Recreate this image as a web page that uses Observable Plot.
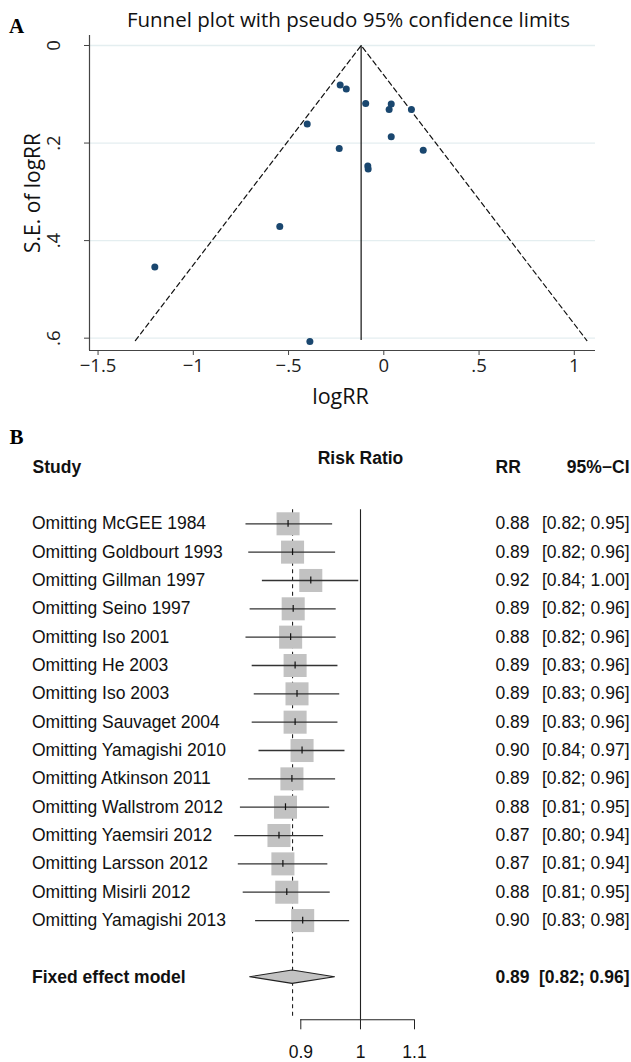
<!DOCTYPE html>
<html>
<head>
<meta charset="utf-8">
<script src="https://cdn.jsdelivr.net/npm/d3@7"></script>
<script src="https://cdn.jsdelivr.net/npm/@observablehq/plot@0.6"></script>
<style>
  body { margin: 0; background: #fff; }
  #wrap { position: relative; width: 631px; height: 1062px; overflow: hidden; }
  #panelA, #panelB { position: absolute; left: 0; }
  #panelA { top: 0; }
  #panelB { top: 420px; }
  svg { display: block; }
</style>
</head>
<body>
<div id="wrap"><div id="panelA"></div><div id="panelB"></div></div>
<script>
// ---------- Panel A: funnel plot data ----------
const funnelLogRR = [-0.229, -0.197, -0.095, 0.039, 0.028, 0.145, -0.402, 0.039, -0.234, 0.207, -0.084, -0.082, -0.546, -1.202, -0.388];
const funnelSE    = [0.081, 0.089, 0.119, 0.120, 0.131, 0.131, 0.161, 0.187, 0.211, 0.215, 0.247, 0.253, 0.371, 0.454, 0.607];
const funnelCenter = -0.119;
const funnelSEMax = 0.605;
const funnelLimitLow = -1.304;
const funnelLimitHigh = 1.066;
const funnelXTicks = [-1.5, -1, -0.5, 0, 0.5, 1];
const funnelXTickLabels = ["−1.5", "−1", "−.5", "0", ".5", "1"];
const funnelYTicks = [0, 0.2, 0.4, 0.6];
const funnelYTickLabels = ["0", ".2", ".4", ".6"];
const funnelTitle = "Funnel plot with pseudo 95% confidence limits";
const funnelXTitle = "logRR";
const funnelYTitle = "S.E. of logRR";

// ---------- Panel B: forest plot data ----------
const studies = [
  "Omitting McGEE 1984", "Omitting Goldbourt 1993", "Omitting Gillman 1997", "Omitting Seino 1997",
  "Omitting Iso 2001", "Omitting He 2003", "Omitting Iso 2003", "Omitting Sauvaget 2004",
  "Omitting Yamagishi 2010", "Omitting Atkinson 2011", "Omitting Wallstrom 2012", "Omitting Yaemsiri 2012",
  "Omitting Larsson 2012", "Omitting Misirli 2012", "Omitting Yamagishi 2013"
];
const rrValues    = [0.880, 0.887, 0.916, 0.888, 0.884, 0.891, 0.894, 0.891, 0.902, 0.886, 0.876, 0.866, 0.872, 0.878, 0.903];
const lowerValues = [0.817, 0.821, 0.841, 0.823, 0.817, 0.826, 0.829, 0.826, 0.836, 0.821, 0.809, 0.801, 0.806, 0.813, 0.831];
const upperValues = [0.952, 0.957, 0.997, 0.958, 0.958, 0.961, 0.964, 0.961, 0.973, 0.957, 0.947, 0.937, 0.944, 0.948, 0.981];
const fixedLabel = "Fixed effect model";
const fixedRR = 0.887, fixedLower = 0.823, fixedUpper = 0.956;
const forestTicks = [0.9, 1, 1.1];
const forestTickLabels = ["0.9", "1", "1.1"];
const forestHeaders = ["Study", "Risk Ratio", "RR", "95%−CI"];

// ---------- build tables ----------
const points = funnelLogRR.map((x, i) => ({logRR: x, se: funnelSE[i]}));
const funnelPath = [
  {logRR: funnelLimitLow, se: funnelSEMax},
  {logRR: funnelCenter, se: 0},
  {logRR: funnelLimitHigh, se: funnelSEMax}
];

const fontA = "'Open Sans', 'DejaVu Sans', sans-serif";
const serif = "'Liberation Serif', 'DejaVu Serif', serif";
const xMinA = -1.5449, xMaxA = 1.1113, yMinA = -0.0205, yMaxA = 0.6253;

const plotA = Plot.plot({
  width: 631, height: 420,
  marginLeft: 89, marginRight: 36, marginTop: 35, marginBottom: 70,
  style: {fontFamily: fontA, background: "#fff", color: "#222", overflow: "visible"},
  x: {domain: [xMinA, xMaxA]},
  y: {domain: [yMinA, yMaxA], reverse: true},
  marks: [
    Plot.ruleY(funnelYTicks, {stroke: "#e4eef0", strokeWidth: 1.3}),
    Plot.ruleX([xMinA], {stroke: "#444", strokeWidth: 1.2}),
    Plot.ruleY([yMaxA], {stroke: "#444", strokeWidth: 1.2}),
    Plot.axisX({ticks: funnelXTicks, tickFormat: d => funnelXTickLabels[funnelXTicks.indexOf(d)],
      tickSize: 5, tickPadding: 3, fontSize: 18.5, label: null, stroke: "#444"}),
    Plot.axisY({ticks: funnelYTicks, tickFormat: d => funnelYTickLabels[funnelYTicks.indexOf(d)],
      tickSize: 5, tickRotate: -90, tickPadding: 25, fontSize: 18.5, label: null, stroke: "#444"}),
    Plot.line(funnelPath, {x: "logRR", y: "se", stroke: "#111", strokeWidth: 1.2, strokeDasharray: "5,3.5"}),
    Plot.ruleX([funnelCenter], {y1: 0, y2: funnelSEMax, stroke: "#111", strokeWidth: 1.2}),
    Plot.dot(points, {x: "logRR", y: "se", r: 3.5, fill: "#1a476f", stroke: "none"}),
    Plot.text([funnelTitle], {frameAnchor: "top", dx: 6, dy: -15, fontSize: 20.5, textAnchor: "middle", lineAnchor: "middle", fill: "#111"}),
    Plot.text([funnelXTitle], {frameAnchor: "bottom", dx: -2, dy: 47, fontSize: 21.5, textAnchor: "middle", lineAnchor: "middle", fill: "#111"}),
    Plot.text([funnelYTitle], {frameAnchor: "left", dx: -56, rotate: -90, fontSize: 21, textAnchor: "middle", lineAnchor: "middle", fill: "#111"}),
    Plot.text(["A"], {frameAnchor: "top-left", dx: -73, dy: -9, fontSize: 21, fontWeight: "bold", fontFamily: serif, textAnchor: "middle", lineAnchor: "middle", fill: "#000"})
  ]
});
document.getElementById("panelA").appendChild(plotA);

// ---------- Panel B ----------
const fontB = "'Liberation Sans', Arial, sans-serif";
const f2 = d3.format(".2f");
const rows = studies.map((s, i) => ({study: s, rr: rrValues[i], lo: lowerValues[i], hi: upperValues[i], row: i}));
const fixedRow = 16;
const diamondHalf = 0.235;
const diamond = [
  {x: fixedLower, y1: fixedRow, y2: fixedRow},
  {x: fixedRR, y1: fixedRow - diamondHalf, y2: fixedRow + diamondHalf},
  {x: fixedUpper, y1: fixedRow, y2: fixedRow}
];
const fixed = [{label: fixedLabel, rr: fixedRR, lo: fixedLower, hi: fixedUpper, row: fixedRow}];
const headerRow = -2;

const plotB = Plot.plot({
  width: 631, height: 642,
  marginLeft: 31.5, marginRight: 2, marginTop: 0, marginBottom: 42.7,
  style: {fontFamily: fontB, fontSize: "17.5px", background: "#fff", color: "#111", overflow: "visible"},
  x: {type: "log", domain: [0.9, 1.1], range: [300.3, 414]},
  y: {domain: [0, 16], range: [103.3, 556.74], axis: null},
  marks: [
    Plot.ruleX([fixedRR], {y1: -0.5, y2: 17.5, stroke: "#222", strokeWidth: 1.1, strokeDasharray: "4,3.5"}),
    Plot.ruleX([1], {y1: -0.5, y2: 17.5, stroke: "#222", strokeWidth: 1.1}),
    Plot.ruleY([17.5], {x1: 0.9, x2: 1.1, stroke: "#222", strokeWidth: 1.1}),
    Plot.axisX({ticks: forestTicks, tickFormat: d => forestTickLabels[forestTicks.indexOf(d)],
      tickSize: 10, tickPadding: 16, fontSize: 17.5, label: null, stroke: "#222"}),
    Plot.dot(rows, {x: "rr", y: "row", symbol: "square", r: 13, fill: "#c2c2c2", stroke: "none"}),
    Plot.ruleY(rows, {x1: "lo", x2: "hi", y: "row", stroke: "#333", strokeWidth: 1.3}),
    Plot.ruleX(rows, {x: "rr", y1: d => d.row - 0.12, y2: d => d.row + 0.12, stroke: "#111", strokeWidth: 1.2}),
    Plot.areaY(diamond, {x: "x", y1: "y1", y2: "y2", fill: "#c2c2c2", stroke: "#222", strokeWidth: 1.1}),
    // study rows
    Plot.text(rows, {y: "row", text: "study", frameAnchor: "left", textAnchor: "start", lineAnchor: "middle", fill: "#111"}),
    Plot.text(rows, {y: "row", text: d => f2(d.rr), frameAnchor: "left", dx: 463.5, textAnchor: "start", lineAnchor: "middle", fill: "#111"}),
    Plot.text(rows, {y: "row", text: d => `[${f2(d.lo)}; ${f2(d.hi)}]`, frameAnchor: "right", textAnchor: "end", lineAnchor: "middle", fill: "#111"}),
    // fixed effect row (bold)
    Plot.text(fixed, {y: "row", text: "label", frameAnchor: "left", textAnchor: "start", lineAnchor: "middle", fontWeight: "bold", fill: "#111"}),
    Plot.text(fixed, {y: "row", text: d => f2(d.rr), frameAnchor: "left", dx: 463.5, textAnchor: "start", lineAnchor: "middle", fontWeight: "bold", fill: "#111"}),
    Plot.text(fixed, {y: "row", text: d => `[${f2(d.lo)}; ${f2(d.hi)}]`, frameAnchor: "right", textAnchor: "end", lineAnchor: "middle", fontWeight: "bold", fill: "#111"}),
    // headers
    Plot.text([forestHeaders[0]], {y: headerRow, frameAnchor: "left", dx: 0.5, textAnchor: "start", lineAnchor: "middle", fontWeight: "bold", fill: "#111"}),
    Plot.text([forestHeaders[1]], {x: 1, y: headerRow - 0.3, textAnchor: "middle", lineAnchor: "middle", fontWeight: "bold", fill: "#111"}),
    Plot.text([forestHeaders[2]], {y: headerRow, frameAnchor: "left", dx: 463.5, textAnchor: "start", lineAnchor: "middle", fontWeight: "bold", fill: "#111"}),
    Plot.text([forestHeaders[3]], {y: headerRow, frameAnchor: "right", textAnchor: "end", lineAnchor: "middle", fontWeight: "bold", fill: "#111"}),
    Plot.text(["B"], {frameAnchor: "top-left", dx: -15.5, dy: 17, fontSize: 21, fontWeight: "bold", fontFamily: serif, textAnchor: "middle", lineAnchor: "middle", fill: "#000"})
  ]
});
document.getElementById("panelB").appendChild(plotB);
</script>
</body>
</html>
